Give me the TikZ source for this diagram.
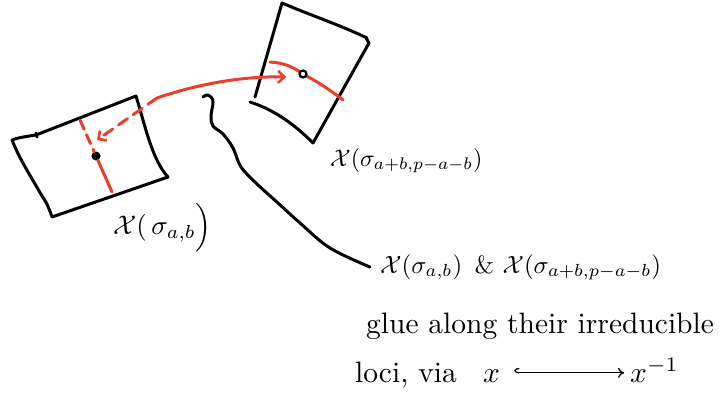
\documentclass[tikz,border=0pt]{standalone}
\usepackage{amsmath,amssymb,graphicx}
\usetikzlibrary{arrows.meta}
\definecolor{inkred}{RGB}{236,62,40}
\newcommand{\sizedtext}[2]{\scalebox{#1}{#2}}
\tikzset{
 ink/.style={line width=3pt, line cap=round, line join=round, black},
 redink/.style={line width=3pt, line cap=round, line join=round, inkred},
 lbl/.style={inner sep=0pt, anchor=base west},
 dotnode/.style={circle, fill=black, inner sep=0pt, minimum size=9pt},
 ringnode/.style={circle, draw=black, fill=white, line width=2.2pt, inner sep=0pt, minimum size=7pt},
 barb/.style={-{Straight Barb[length=6pt,width=12pt,line width=2.6pt]}},
 hookarrow/.style={line width=1.3pt, {Hooks[right,length=5pt,width=10pt]}-{To[length=6pt,width=10pt]}},
}
\begin{document}
\begin{tikzpicture}[x=1pt,y=-1pt]
\useasboundingbox (0,0) rectangle (723,404);
% left sheet
\draw[ink] (12,140) .. controls (20,137) and (30,136) .. (36,135) -- (136,96)
  .. controls (145,125) and (152,160) .. (168,177) -- (52,217)
  .. controls (48,205) and (45,200) .. (42,196)
  .. controls (30,175) and (20,160) .. (12,140) -- cycle;
\draw[ink] (36,133) -- (37,137);
% right sheet
\draw[ink] (255,97) -- (282,3) .. controls (310,15) and (340,25) .. (367,38);
\draw[ink] (366,38) -- (369,43) -- (313,143);
\draw[ink] (250,102) .. controls (275,110) and (295,125) .. (313,143);
% points
\node[dotnode] (p) at (96,156) {};
% red loci
\draw[redink, dash pattern=on 10pt off 6pt] (80,120) -- (p);
\draw[redink] (p) -- (112,192);
\coordinate (q0) at (303,74);
\draw[redink] (270,62) .. controls (285,63) and (293,67) .. (q0);
\draw[redink] (q0) .. controls (318,82) and (330,90) .. (343,100);
\node[ringnode] (q) at (q0) {};
% map arrow
\coordinate (m) at (157,98);
\coordinate (qa) at (286,77);
\coordinate (pa) at (97,140);
\draw[redink, barb] (m) .. controls (195,85) and (240,76) .. (qa);
\draw[redink, barb, dash pattern=on 11pt off 7pt] (m) -- (pa);
% labels
\node[lbl] (lx) at (113,234) {\sizedtext{2.7}{$\mathcal{X}(\,\sigma_{a,b}\Big)$}};
\node[lbl] (rx) at (330,166) {\sizedtext{2.4}{$\mathcal{X}(\sigma_{a+b,p-a-b})$}};
\node[lbl] (l1) at (380,273) {\sizedtext{2.5}{$\mathcal{X}(\sigma_{a,b})$ \,\& $\mathcal{X}(\sigma_{a+b,p-a-b})$}};
\node[lbl] (l2) at (366,333) {\sizedtext{2.95}{glue along their irreducible}};
\node[lbl] (l3) at (355,382) {\sizedtext{2.95}{loci, via}};
\node[lbl] (xs) at (483,382) {\sizedtext{2.95}{$x$}};
\node[lbl] (xinv) at (630,382) {\sizedtext{2.95}{$x^{-1}$}};
\draw[hookarrow] ([xshift=14pt,yshift=7pt]xs.mid east) -- ([xshift=-6pt,yshift=7pt]xinv.mid west);
% squiggle
\coordinate (s) at (203,97);
\draw[ink] plot[smooth, tension=0.6] coordinates {(s) (208,95) (213,101) (211,116) (213,126) (223,134) (233,148) (241,167) (257,184) (278,203) (300,223) (330,248) (370,267)};
\end{tikzpicture}
\end{document}
